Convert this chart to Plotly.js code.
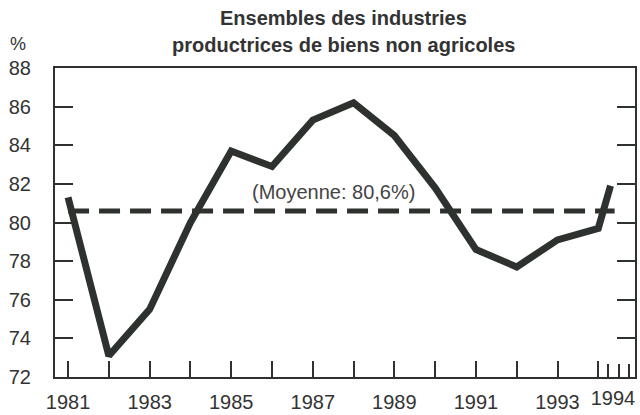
<!DOCTYPE html>
<html>
<head>
<meta charset="utf-8">
<script src="https://cdn.plot.ly/plotly-3.0.1.min.js"></script>
<style>html,body{margin:0;padding:0;background:#fff;}#chart{width:640px;height:415px;}</style>
</head>
<body>
<div id="chart"></div>
<script>
// Data
const years = [1981, 1982, 1983, 1984, 1985, 1986, 1987, 1988, 1989, 1990, 1991, 1992, 1993, 1994.0, 1994.3];
const rates = [81.3, 73.1, 75.5, 80.0, 83.7, 82.9, 85.3, 86.2, 84.5, 81.8, 78.6, 77.7, 79.1, 79.7, 81.9];
const meanValue = 80.6;
const meanSpan = [1981, 1994.4];
const yearTicks = [1981, 1982, 1983, 1984, 1985, 1986, 1987, 1988, 1989, 1990, 1991, 1992, 1993, 1994];
const yearTickText = ['1981', '', '1983', '', '1985', '', '1987', '', '1989', '', '1991', '', '1993', ''];
const quarterTicks = [1994.25, 1994.5, 1994.75];
const lastLabelPos = [1994.36];
const lastLabelText = ['1994'];
const yTicks = [72, 74, 76, 78, 80, 82, 84, 86, 88];
const titleLines = ['Ensembles des industries', 'productrices de biens non agricoles'];

const ink = '#2e322e';
const font = "'Liberation Sans', Arial, Helvetica, sans-serif";

const traces = [
  {
    x: meanSpan, y: [meanValue, meanValue], type: 'scatter', mode: 'lines',
    line: {color: ink, width: 5, dash: '21px,10px'}, hoverinfo: 'skip', showlegend: false
  },
  {
    x: years, y: rates, type: 'scatter', mode: 'lines',
    line: {color: ink, width: 7, shape: 'linear'}, showlegend: false
  },
  {
    x: [quarterTicks[0]], y: [meanValue], xaxis: 'x2', type: 'scatter', mode: 'markers',
    marker: {opacity: 0}, hoverinfo: 'skip', showlegend: false
  },
  {
    x: [quarterTicks[0]], y: [meanValue], xaxis: 'x3', type: 'scatter', mode: 'markers',
    marker: {opacity: 0}, hoverinfo: 'skip', showlegend: false
  }
];

const xRange = [1980.68, 1994.9];
const tickFont = {family: font, size: 20, color: '#333'};
const layout = {
  width: 640, height: 415,
  margin: {l: 55, r: 5, t: 68, b: 38},
  paper_bgcolor: '#ffffff', plot_bgcolor: '#ffffff',
  font: {family: font, size: 19, color: '#333'},
  xaxis: {
    range: xRange, tickmode: 'array', tickvals: yearTicks, ticktext: yearTickText,
    ticks: 'inside', ticklen: 16, tickwidth: 2, tickcolor: ink,
    showline: true, linecolor: ink, linewidth: 2, mirror: true,
    showgrid: false, zeroline: false, ticklabelstandoff: 6, tickfont: tickFont
  },
  xaxis2: {
    range: xRange, overlaying: 'x', anchor: 'y', side: 'bottom',
    tickmode: 'array', tickvals: quarterTicks, ticktext: ['', '', ''],
    ticks: 'inside', ticklen: 13, tickwidth: 2, tickcolor: ink,
    showline: false, showgrid: false, zeroline: false, tickfont: tickFont
  },
  xaxis3: {
    range: xRange, overlaying: 'x', anchor: 'y', side: 'bottom',
    tickmode: 'array', tickvals: lastLabelPos, ticktext: lastLabelText,
    ticks: '', showline: false, showgrid: false, zeroline: false,
    ticklabelstandoff: 7, ticklabeloverflow: 'allow', tickfont: tickFont
  },
  yaxis: {
    range: [72, 88], tickmode: 'array', tickvals: yTicks,
    ticks: 'inside', ticklen: 18, tickwidth: 2, tickcolor: ink,
    showline: true, linecolor: ink, linewidth: 2, mirror: 'ticks',
    showgrid: false, zeroline: false, ticklabelstandoff: 18, tickfont: tickFont
  },
  annotations: [
    {text: titleLines[0], xref: 'paper', yref: 'paper', x: 0.497, y: 1.162, xanchor: 'center', yanchor: 'middle',
     showarrow: false, font: {family: font, size: 20, color: '#333', weight: 'bold'}},
    {text: titleLines[1], xref: 'paper', yref: 'paper', x: 0.497, y: 1.074, xanchor: 'center', yanchor: 'middle',
     showarrow: false, font: {family: font, size: 20, color: '#333', weight: 'bold'}},
    {text: '%', xref: 'paper', yref: 'paper', x: -0.063, y: 1.078, xanchor: 'center', yanchor: 'middle',
     showarrow: false, font: {family: font, size: 18, color: '#333'}},
    {text: '(Moyenne: 80,6%)', xref: 'x', yref: 'y', x: 1987.5, y: 81.6, xanchor: 'center', yanchor: 'middle',
     showarrow: false, font: {family: font, size: 20, color: '#444'}}
  ]
};

Plotly.newPlot('chart', traces, layout, {displayModeBar: false, staticPlot: true});
</script>
</body>
</html>
